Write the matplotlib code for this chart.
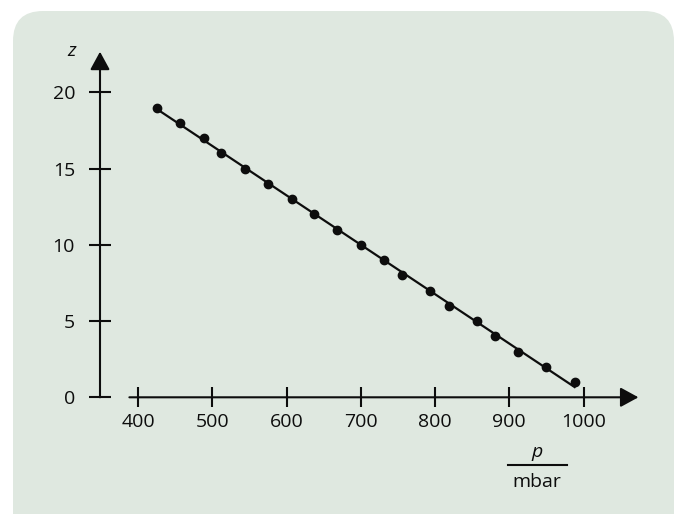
import numpy as np
import matplotlib
matplotlib.use("Agg")
import matplotlib.pyplot as plt
from matplotlib.patches import FancyBboxPatch
from matplotlib.lines import Line2D

# ─── Données ──────────────────────────────────────────────────────
pressure = [425, 456, 488, 512, 544, 575, 607, 637, 668, 700,
            731, 756, 793, 819, 856, 881, 912, 950, 988]
height_z = [19, 18, 17, 16, 15, 14, 13, 12, 11, 10,
            9, 8, 7, 6, 5, 4, 3, 2, 1]
x_ticks = [400, 500, 600, 700, 800, 900, 1000]
y_ticks = [0, 5, 10, 15, 20]

W, H, DPI = 688, 514, 100
BG = "#dfe8e0"
INK = "#0d0d0d"

plt.rcParams["font.family"] = ["Open Sans", "DejaVu Sans"]
plt.rcParams["font.size"] = 14

fig = plt.figure(figsize=(W / DPI, H / DPI), dpi=DPI, facecolor="white")

# panneau arrondi (derrière les axes)
panel = FancyBboxPatch((0.13, -0.5), 6.61, 5.53,
                       boxstyle="round,pad=0,rounding_size=0.3",
                       transform=fig.dpi_scale_trans,
                       facecolor=BG, edgecolor="none", zorder=-5)
fig.patches.append(panel)


def fx(px):
    return px / W


def fy(py):
    return 1 - py / H


# axes : bord gauche = axe z (x=100px), bord bas = axe p (y=397px)
ax = fig.add_axes([fx(100), fy(397.3), fx(650) - fx(100), fy(45) - fy(397.3)])
ax.set_facecolor("none")
ax.set_xlim(348.4, 1089.6)
ax.set_ylim(0, 23.1)
for s in ax.spines.values():
    s.set_visible(False)

ax.set_xticks(x_ticks)
ax.set_yticks(y_ticks)
ax.tick_params(axis="x", direction="inout", length=15, width=1.5, color=INK,
               pad=4, labelsize=14, labelcolor=INK)
ax.tick_params(axis="y", direction="inout", length=16, width=1.5, color=INK,
               pad=10, labelsize=14, labelcolor=INK)

arrow = dict(arrowstyle="-|>,head_length=0.55,head_width=0.3",
             mutation_scale=20, lw=1.5, color=INK, shrinkA=0, shrinkB=0)
# axe p
ax.annotate("", xy=(1074, 0), xytext=(388, 0),
            xycoords=ax.get_xaxis_transform(), textcoords=ax.get_xaxis_transform(),
            arrowprops=arrow, annotation_clip=False)
# axe z
ax.annotate("", xy=(0, 22.66), xytext=(0, 0),
            xycoords=ax.get_yaxis_transform(), textcoords=ax.get_yaxis_transform(),
            arrowprops=arrow, annotation_clip=False)

# droite de régression
p = np.array(pressure, dtype=float)
z = np.array(height_z, dtype=float)
slope, icpt = np.polyfit(p, z, 1)
xs = np.array([p.min(), p.max()])
ax.plot(xs, slope * xs + icpt, color=INK, lw=1.6, zorder=2)
ax.plot(p, z, "o", color=INK, ms=6, zorder=3)

# labels
fig.text(fx(72), fy(51), "z", style="italic", ha="center", va="center",
         fontsize=14, color=INK)
fig.text(fx(537), fy(452), "p", style="italic", ha="center", va="center",
         fontsize=14, color=INK)
fig.add_artist(Line2D([fx(508), fx(567)], [fy(465), fy(465)],
                      color=INK, lw=1.5))
fig.text(fx(537), fy(482), "mbar", ha="center", va="center",
         fontsize=14, color=INK)

fig.savefig("out.png", dpi=DPI, facecolor="white")
